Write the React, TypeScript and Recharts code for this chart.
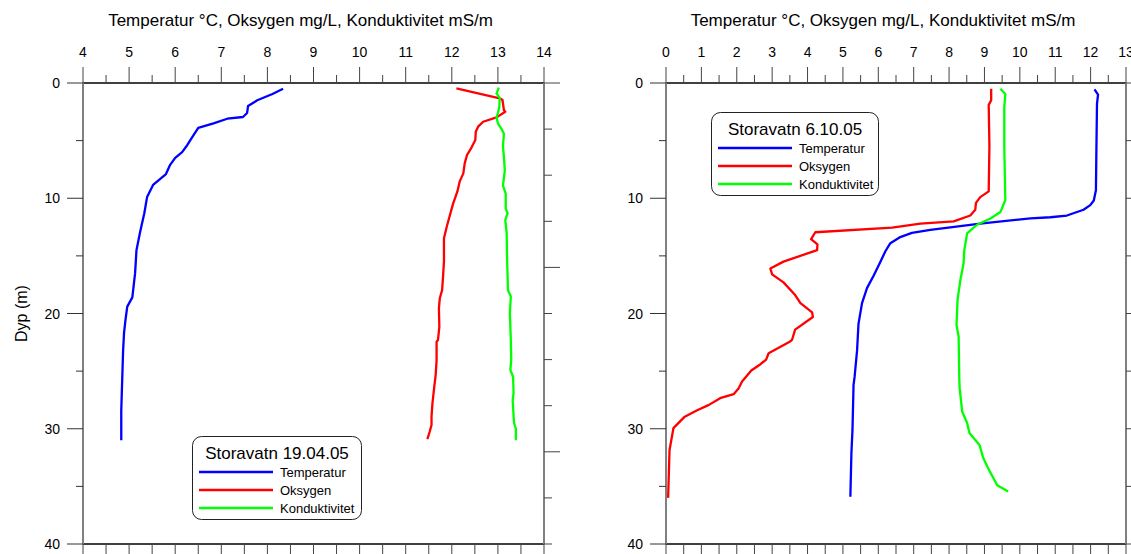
import { ScatterChart, Scatter, XAxis, YAxis, Legend } from "recharts";

const FONT = "'Liberation Sans', Arial, sans-serif";

// depth (m), value
const tempA: [number, number][] = [
  [0.5, 8.34], [0.95, 8.11], [1.5, 7.78], [2.0, 7.58], [2.6, 7.56], [2.95, 7.47], [3.1, 7.13],
  [3.5, 6.83], [3.9, 6.5], [4.7, 6.37], [5.4, 6.26], [6.0, 6.15], [6.5, 6.0], [7.1, 5.89],
  [7.9, 5.8], [8.85, 5.52], [9.9, 5.39], [11.3, 5.33], [12.9, 5.24], [14.5, 5.16], [16.5, 5.13],
  [18.6, 5.07], [19.4, 4.96], [20.6, 4.92], [21.7, 4.89], [23.2, 4.87], [25.8, 4.85],
  [28.4, 4.83], [31.0, 4.83],
];
const oxyA: [number, number][] = [
  [0.46, 12.1], [1.33, 13.04], [1.48, 13.1], [2.34, 13.13], [2.49, 13.16], [2.98, 12.97],
  [3.36, 12.68], [3.79, 12.57], [4.23, 12.52], [4.95, 12.51], [5.58, 12.43], [6.25, 12.33],
  [6.97, 12.28], [7.84, 12.25], [8.56, 12.17], [9.43, 12.12], [10.44, 12.03], [11.45, 11.96],
  [12.47, 11.89], [13.47, 11.83], [14.49, 11.83], [15.5, 11.83], [16.8, 11.81], [17.96, 11.79],
  [18.68, 11.74], [19.55, 11.72], [21.15, 11.73], [22.3, 11.7], [22.45, 11.67], [24.04, 11.67],
  [25.34, 11.65], [26.35, 11.62], [27.8, 11.58], [28.96, 11.56], [29.67, 11.56], [30.26, 11.52],
  [30.9, 11.47],
];
const condA: [number, number][] = [
  [0.4, 13.02], [0.9, 12.97], [1.3, 13.04], [2.1, 13.03], [2.6, 13.0], [3.0, 12.97], [3.5, 13.0],
  [4.0, 13.08], [4.4, 13.13], [5.5, 13.11], [6.4, 13.13], [7.6, 13.15], [8.9, 13.11], [9.6, 13.17],
  [10.9, 13.17], [11.3, 13.21], [11.9, 13.16], [13.0, 13.19], [15.4, 13.2], [18.0, 13.22],
  [18.5, 13.28], [20.0, 13.26], [22.3, 13.28], [24.0, 13.29], [24.9, 13.27], [25.5, 13.33],
  [26.9, 13.34], [27.5, 13.32], [29.5, 13.35], [30.0, 13.39], [31.0, 13.39],
];

const tempB: [number, number][] = [
  [0.55, 12.11], [1.0, 12.21], [1.8, 12.18], [6.7, 12.16], [9.3, 12.15], [10.2, 12.09],
  [10.6, 11.99], [11.0, 11.8], [11.5, 11.33], [11.65, 10.86], [11.75, 10.3], [12.2, 8.88],
  [12.75, 7.47], [13.0, 6.95], [13.4, 6.6], [13.9, 6.34], [14.6, 6.2], [15.5, 6.06], [16.7, 5.87],
  [17.8, 5.68], [19.1, 5.54], [20.9, 5.44], [23.2, 5.4], [25.5, 5.33], [26.2, 5.3], [30.1, 5.27],
  [32.1, 5.24], [35.9, 5.21],
];
const oxyB: [number, number][] = [
  [0.5, 9.19], [1.5, 9.19], [1.9, 9.12], [5.5, 9.14], [9.4, 9.12], [9.9, 8.88], [10.4, 8.76],
  [11.0, 8.74], [11.5, 8.6], [12.0, 8.13], [12.2, 7.19], [12.55, 6.39], [12.95, 4.22],
  [13.55, 4.1], [14.0, 4.28], [14.5, 4.27], [15.5, 3.32], [16.1, 2.95], [16.6, 3.0], [17.3, 3.32],
  [18.4, 3.65], [19.1, 3.8], [19.9, 4.13], [20.3, 4.15], [21.4, 3.65], [22.3, 3.56], [22.5, 3.47],
  [23.45, 2.9], [24.0, 2.83], [24.4, 2.67], [24.95, 2.41], [25.9, 2.15], [26.5, 2.05], [27.0, 1.91],
  [27.35, 1.53], [27.95, 1.2], [28.4, 0.88], [28.95, 0.53], [29.95, 0.21], [31.85, 0.1],
  [36.0, 0.06],
];
const condB: [number, number][] = [
  [0.5, 9.45], [0.95, 9.59], [2.1, 9.56], [5.5, 9.56], [10.15, 9.59], [11.2, 9.45], [11.75, 9.17],
  [12.3, 8.79], [13.05, 8.51], [14.5, 8.43], [15.65, 8.41], [17.1, 8.32], [18.8, 8.24], [21.0, 8.21],
  [22.0, 8.27], [25.8, 8.29], [26.5, 8.3], [28.5, 8.37], [29.5, 8.51], [30.4, 8.58], [31.4, 8.86],
  [32.5, 8.96], [33.4, 9.1], [34.9, 9.36], [35.45, 9.67],
];

const titleText = "Temperatur \u00B0C, Oksygen mg/L, Konduktivitet mS/m";
const depthLabel = "Dyp (m)";
const seriesNames = ["Temperatur", "Oksygen", "Konduktivitet"];
const seriesColors = ["#0000ff", "#ff0000", "#00ff00"];
const depthTicks = [0, 5, 10, 15, 20, 25, 30, 35, 40];
const rightTicksA = [0, 4, 8, 12, 16, 20, 24, 28, 32, 36, 40];
const xTicksA = Array.from({ length: 21 }, (_, i) => 4 + i * 0.5);
const xTicksB = Array.from({ length: 27 }, (_, i) => i * 0.5);

const toPoints = (rows: [number, number][]) => rows.map(([d, v]) => ({ d, v }));

const Empty = () => <g />;

const TopTick = (props: any) => {
  const { x, y, payload } = props;
  const major = Number.isInteger(payload.value);
  return (
    <g>
      <line x1={x} x2={x} y1={y} y2={y - (major ? 16 : 8)} stroke="#444" />
      {major && (
        <text x={x} y={y - 26.5} textAnchor="middle" fontSize={14} fill="#000" fontFamily={FONT}>
          {payload.value}
        </text>
      )}
    </g>
  );
};

const BottomTick = (props: any) => {
  const { x, y, payload } = props;
  const major = Number.isInteger(payload.value);
  return <line x1={x} x2={x} y1={y} y2={y + (major ? 16 : 12)} stroke="#444" />;
};

const LeftTick = (props: any) => {
  const { x, y, payload } = props;
  const major = payload.value % 10 === 0;
  return (
    <g>
      <line x1={x - (major ? 16 : 7)} x2={x} y1={y} y2={y} stroke="#333" />
      {major && (
        <text x={x - 23} y={y + 5} textAnchor="end" fontSize={14} fill="#000" fontFamily={FONT}>
          {payload.value}
        </text>
      )}
    </g>
  );
};

const makeRightTick = (majorStep: number) => (props: any) => {
  const { x, y, payload } = props;
  const major = payload.value % majorStep === 0;
  return <line x1={x} x2={x + (major ? 16 : 8)} y1={y} y2={y} stroke="#444" />;
};

const TitleLabel = (props: any) => {
  const { viewBox } = props;
  return (
    <text
      x={viewBox.x + viewBox.width / 2 - 13}
      y={viewBox.y - 27}
      textAnchor="middle"
      fontSize={17}
      fill="#000"
      fontFamily={FONT}
    >
      {titleText}
    </text>
  );
};

const DepthLabel = (props: any) => {
  const { viewBox } = props;
  const cx = viewBox.x - 32;
  const cy = viewBox.y + viewBox.height / 2;
  return (
    <text
      x={cx}
      y={cy}
      transform={`rotate(-90 ${cx} ${cy})`}
      textAnchor="middle"
      dominantBaseline="central"
      fontSize={16}
      fill="#000"
      fontFamily={FONT}
    >
      {depthLabel}
    </text>
  );
};

const makeLegend = (title: string, w: number) => () => (
  <svg width={w} height={84} style={{ display: "block" }}>
    <rect x={0.5} y={0.5} width={w - 1} height={83} rx={9} ry={9} fill="#fff" stroke="#222" />
    <text x={w / 2} y={23} textAnchor="middle" fontSize={17} fill="#000" fontFamily={FONT}>
      {title}
    </text>
    {seriesNames.map((name, i) => (
      <g key={name}>
        <line x1={7} x2={81} y1={36 + i * 18} y2={36 + i * 18} stroke={seriesColors[i]} strokeWidth={2.5} />
        <text x={88} y={40.5 + i * 18} fontSize={13} fill="#000" fontFamily={FONT}>
          {name}
        </text>
      </g>
    ))}
  </svg>
);

type PanelProps = {
  left: number;
  width: number;
  marginLeft: number;
  marginRight: number;
  xDomain: [number, number];
  xTicks: number[];
  rightTicks: number[];
  rightMajor: number;
  series: [number, number][][];
  legendTitle: string;
  legendLeft: number;
  legendTop: number;
  legendWidth: number;
  showDepth: boolean;
};

const Panel = (p: PanelProps) => (
  <div style={{ position: "absolute", left: p.left, top: 0 }}>
    <ScatterChart
      width={p.width}
      height={570}
      margin={{ top: 53, left: p.marginLeft, right: p.marginRight, bottom: 6 }}
      style={{ fontFamily: FONT }}
    >
      <XAxis
        xAxisId="t"
        orientation="top"
        type="number"
        dataKey="v"
        domain={p.xDomain}
        ticks={p.xTicks}
        interval={0}
        height={30}
        tickSize={0}
        tickMargin={0}
        tick={TopTick}
        axisLine={{ stroke: "#000", strokeWidth: 1.3 }}
        allowDataOverflow
        label={TitleLabel}
      />
      <XAxis
        xAxisId="b"
        orientation="bottom"
        type="number"
        dataKey="v"
        domain={p.xDomain}
        ticks={p.xTicks}
        interval={0}
        height={20}
        tickSize={0}
        tickMargin={0}
        tick={BottomTick}
        axisLine={{ stroke: "#000", strokeWidth: 1.3 }}
        allowDataOverflow
      />
      <YAxis
        yAxisId="l"
        orientation="left"
        type="number"
        dataKey="d"
        reversed
        domain={[0, 40]}
        ticks={depthTicks}
        interval={0}
        width={30}
        tickSize={0}
        tickMargin={0}
        tick={LeftTick}
        axisLine={{ stroke: "#808080", strokeWidth: 2 }}
        allowDataOverflow
        label={p.showDepth ? DepthLabel : undefined}
      />
      <YAxis
        yAxisId="r"
        orientation="right"
        type="number"
        dataKey="d"
        reversed
        domain={[0, 40]}
        ticks={p.rightTicks}
        interval={0}
        width={20}
        tickSize={0}
        tickMargin={0}
        tick={makeRightTick(p.rightMajor)}
        axisLine={{ stroke: "#808080", strokeWidth: 2 }}
        allowDataOverflow
      />
      <Scatter
        xAxisId="b"
        yAxisId="r"
        data={toPoints(p.series[0])}
        shape={Empty}
        legendType="none"
        isAnimationActive={false}
      />
      {p.series.map((rows, i) => (
        <Scatter
          key={seriesNames[i]}
          name={seriesNames[i]}
          xAxisId="t"
          yAxisId="l"
          data={toPoints(rows)}
          fill={seriesColors[i]}
          shape={Empty}
          line={{ stroke: seriesColors[i], strokeWidth: 2.3, strokeLinejoin: "round" }}
          lineType="joint"
          isAnimationActive={false}
        />
      ))}
      <Legend
        layout="horizontal"
        verticalAlign="middle"
        align="center"
        content={makeLegend(p.legendTitle, p.legendWidth)}
        wrapperStyle={{ left: p.legendLeft, top: p.legendTop, width: p.legendWidth, height: 84 }}
      />
    </ScatterChart>
  </div>
);

const App: React.FC = () => {
  return (
    <div
      style={{
        position: "absolute",
        left: 0,
        top: 0,
        width: 1131,
        height: 554,
        overflow: "hidden",
        background: "#fff",
      }}
    >
      <Panel
        left={0}
        width={566}
        marginLeft={53}
        marginRight={2}
        xDomain={[4, 14]}
        xTicks={xTicksA}
        rightTicks={rightTicksA}
        rightMajor={16}
        series={[tempA, oxyA, condA]}
        legendTitle="Storavatn 19.04.05"
        legendLeft={192}
        legendTop={436}
        legendWidth={170}
        showDepth
      />
      <Panel
        left={566}
        width={600}
        marginLeft={70}
        marginRight={20}
        xDomain={[0, 13]}
        xTicks={xTicksB}
        rightTicks={depthTicks}
        rightMajor={10}
        series={[tempB, oxyB, condB]}
        legendTitle="Storavatn 6.10.05"
        legendLeft={145}
        legendTop={112}
        legendWidth={168}
        showDepth={false}
      />
    </div>
  );
};

export default App;
